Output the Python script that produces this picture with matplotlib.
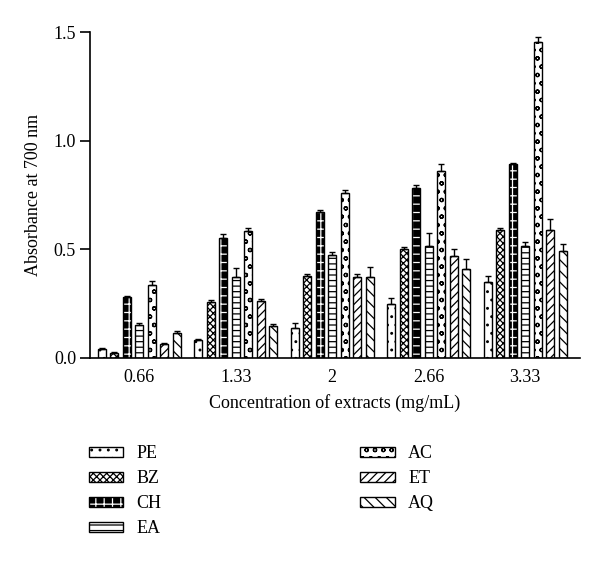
import numpy as np
import matplotlib
matplotlib.use("Agg")
import matplotlib.pyplot as plt
from matplotlib.legend_handler import HandlerTuple

plt.rcParams["font.family"] = ["Liberation Serif", "DejaVu Serif"]
plt.rcParams["hatch.linewidth"] = 0.9

# concentrations (mg/mL)
conc = ["0.66", "1.33", "2", "2.66", "3.33"]

# extracts
names = ["PE", "BZ", "CH", "EA", "AC", "ET", "AQ"]
pe = [0.043, 0.083, 0.140, 0.250, 0.348]
bz = [0.025, 0.256, 0.379, 0.502, 0.590]
ch = [0.282, 0.552, 0.673, 0.784, 0.894]
ea = [0.152, 0.373, 0.473, 0.517, 0.514]
ac = [0.336, 0.583, 0.761, 0.862, 1.456]
et = [0.066, 0.262, 0.371, 0.471, 0.590]
aq = [0.114, 0.147, 0.371, 0.410, 0.493]

pe_err = [0.005, 0.004, 0.023, 0.028, 0.028]
bz_err = [0.004, 0.012, 0.006, 0.008, 0.006]
ch_err = [0.004, 0.018, 0.006, 0.012, 0.003]
ea_err = [0.007, 0.040, 0.017, 0.060, 0.018]
ac_err = [0.020, 0.015, 0.010, 0.030, 0.020]
et_err = [0.003, 0.010, 0.015, 0.030, 0.050]
aq_err = [0.008, 0.008, 0.050, 0.045, 0.030]

values = [pe, bz, ch, ea, ac, et, aq]
errors = [pe_err, bz_err, ch_err, ea_err, ac_err, et_err, aq_err]
hatches = ["..", "xxxxx", "++", "---", "oo", "////", "\\\\\\"]

fig = plt.figure(figsize=(6, 5.62), dpi=100)
ax = fig.add_axes([0.15, 0.363, 0.817, 0.58])

x = np.arange(len(conc))
pitch = 0.13
width = 0.082
handles = []
for i, (v, e, h, n) in enumerate(zip(values, errors, hatches, names)):
    pos = x + (i - 3) * pitch
    if n == "CH":
        # black bar with white grid -> checker look
        under = ax.bar(pos, v, width, facecolor="black", edgecolor="white",
                       linewidth=0, hatch="++", zorder=2)
        over = ax.bar(pos, v, width, facecolor="none", edgecolor="black",
                      linewidth=1.0, zorder=2)
        handles.append((under, over))
    else:
        b = ax.bar(pos, v, width, facecolor="white", edgecolor="black",
                   linewidth=1.0, hatch=h, zorder=2)
        handles.append(b)
    ax.errorbar(pos, v, yerr=[np.zeros(len(e)), e], fmt="none",
                ecolor="black", elinewidth=1.0, capsize=2.2, capthick=1.0,
                zorder=3)

ax.set_xlim(-0.51, 4.57)
ax.set_ylim(0, 1.5)
ax.set_yticks([0, 0.5, 1.0, 1.5])
ax.set_yticklabels(["0.0", "0.5", "1.0", "1.5"])
ax.set_xticks(x)
ax.set_xticklabels(conc)
ax.tick_params(axis="x", length=0, labelsize=13, pad=8)
ax.tick_params(axis="y", length=7, width=1.2, labelsize=13, pad=3)
for s in ["top", "right"]:
    ax.spines[s].set_visible(False)
for s in ["left", "bottom"]:
    ax.spines[s].set_linewidth(1.2)

ax.set_ylabel("Absorbance at 700 nm", fontsize=13, labelpad=8)
ax.set_xlabel("Concentration of extracts (mg/mL)", fontsize=13, labelpad=6)

fig.legend(handles, names, loc="upper left", bbox_to_anchor=(0.148, 0.208),
           ncol=2, frameon=False, fontsize=13, handlelength=1.9,
           handleheight=0.5, handletextpad=0.75, labelspacing=0.45,
           columnspacing=11.0, borderpad=0, borderaxespad=0,
           handler_map={tuple: HandlerTuple(ndivide=1, pad=0)})

fig.savefig("out.png", dpi=100)
